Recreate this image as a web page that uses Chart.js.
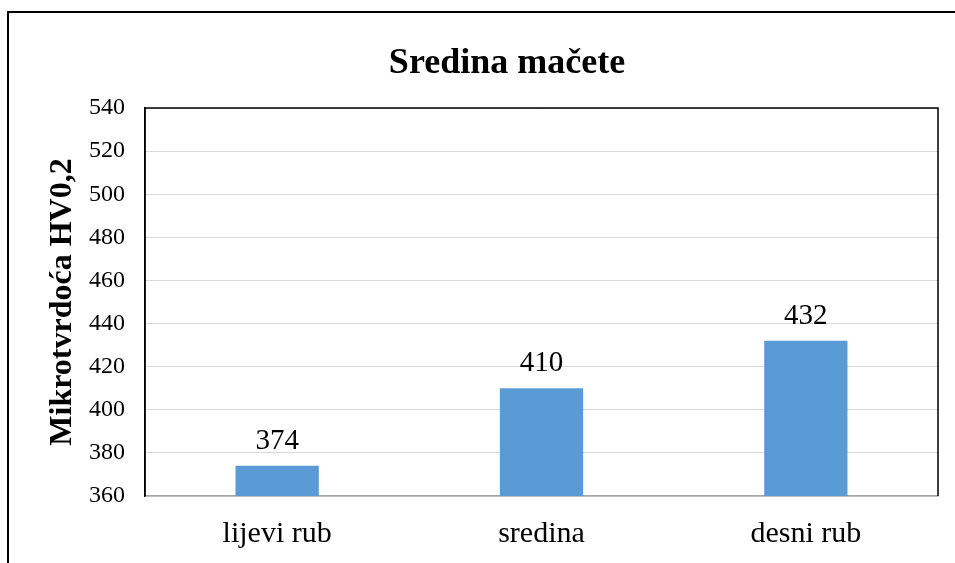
<!DOCTYPE html>
<html>
<head>
<meta charset="utf-8">
<script src="https://cdn.jsdelivr.net/npm/chart.js@4/dist/chart.umd.min.js"></script>
<style>
  html, body { margin: 0; padding: 0; background: #fff; }
  #wrap { position: relative; width: 955px; height: 563px; overflow: hidden; }
  #frame { position: absolute; left: 7px; top: 11px; width: 1000px; height: 600px; border: 2px solid #000; }
  #chart { position: absolute; left: 0; top: 0; }
</style>
</head>
<body>
<div id="wrap">
  <div id="frame"></div>
  <canvas id="chart" width="955" height="563"></canvas>
</div>
<script>
// podaci
const categories = ['lijevi rub', 'sredina', 'desni rub'];
const values = [374, 410, 432];
const chartTitle = 'Sredina mačete';
const yTitle = 'Mikrotvrdoća HV0,2';
const yMin = 360, yMax = 540, yStep = 20;

const serif = "'Liberation Serif', 'Times New Roman', serif";
Chart.defaults.font.family = serif;
Chart.defaults.color = '#000';

// naslov, okvir i oznake vrijednosti
const extras = {
    id: 'extras',
    afterDatasetsDraw(chart) {
        const ctx = chart.ctx;
        const a = chart.chartArea;
        ctx.save();
        // okvir oko područja crtanja (gore i desno)
        ctx.strokeStyle = '#000';
        ctx.lineWidth = 1.5;
        ctx.beginPath();
        ctx.moveTo(a.left, a.bottom);
        ctx.lineTo(a.left, a.top);
        ctx.lineTo(a.right, a.top);
        ctx.lineTo(a.right, a.bottom);
        ctx.stroke();

        // vrijednosti iznad stupaca
        ctx.fillStyle = '#000';
        ctx.font = '29px ' + serif;
        ctx.textAlign = 'center';
        ctx.textBaseline = 'alphabetic';
        chart.getDatasetMeta(0).data.forEach((bar, i) => {
            ctx.fillText(values[i], bar.x, bar.y - 17);
        });

        // naslov
        ctx.font = 'bold 36px ' + serif;
        ctx.fillText(chartTitle, 507, 73);
        ctx.restore();
    }
};

new Chart(document.getElementById('chart'), {
    type: 'bar',
    data: {
        labels: categories,
        datasets: [{
            data: values,
            backgroundColor: '#5B9BD5',
            borderWidth: 0,
            categoryPercentage: 1,
            barPercentage: 0.315
        }]
    },
    options: {
        responsive: false,
        animation: false,
        layout: { padding: { top: 108, right: 17, left: 0, bottom: 0 } },
        plugins: {
            legend: { display: false },
            title: { display: false },
            tooltip: { enabled: false }
        },
        scales: {
            x: {
                grid: { display: false, drawTicks: false },
                border: { color: '#A6A6A6', width: 1.5 },
                ticks: { font: { size: 30 }, padding: 20 },
                afterFit: s => { s.height = 67; }
            },
            y: {
                min: yMin,
                max: yMax,
                grid: { color: '#D9D9D9', lineWidth: 1, drawTicks: false },
                border: { color: '#000', width: 1.5 },
                ticks: { stepSize: yStep, font: { size: 24 }, padding: 20 },
                title: {
                    display: true,
                    text: yTitle,
                    font: { size: 32, weight: 'bold' },
                    padding: { top: 44, bottom: 0 }
                },
                afterFit: s => { s.width = 145; }
            }
        }
    },
    plugins: [extras]
});
</script>
</body>
</html>
